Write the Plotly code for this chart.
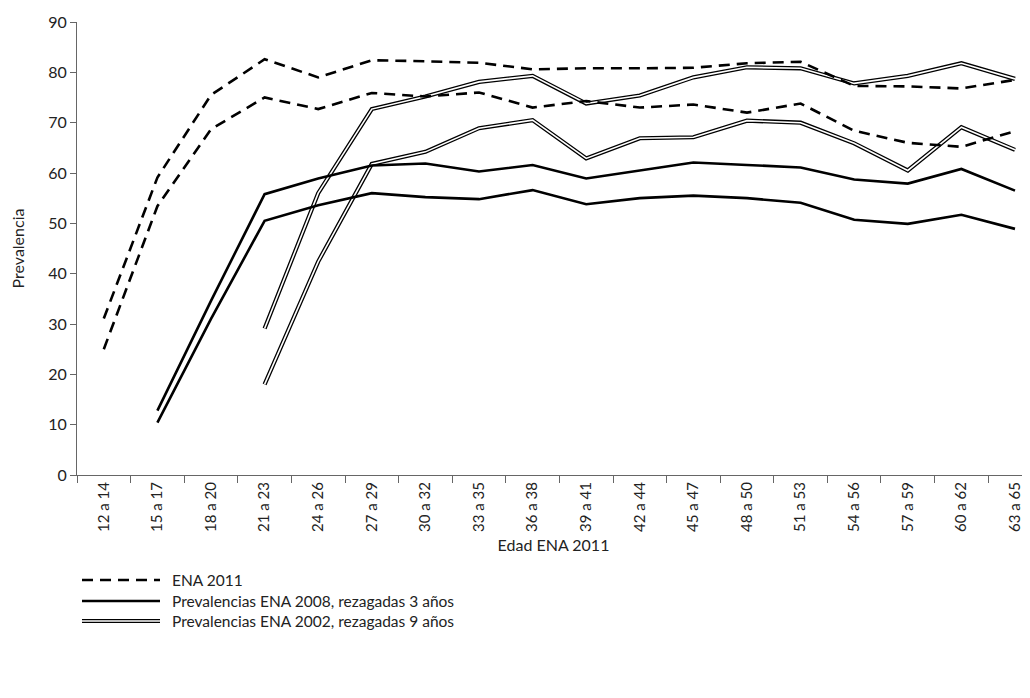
import plotly.graph_objects as go

categories = ["12 a 14", "15 a 17", "18 a 20", "21 a 23", "24 a 26", "27 a 29",
              "30 a 32", "33 a 35", "36 a 38", "39 a 41", "42 a 44", "45 a 47",
              "48 a 50", "51 a 53", "54 a 56", "57 a 59", "60 a 62", "63 a 65"]

ena2011_a = [31.1, 59.1, 75.5, 82.6, 79.0, 82.4, 82.2, 81.9, 80.6, 80.8, 80.8, 80.9,
             81.8, 82.1, 77.3, 77.2, 76.8, 78.5]
ena2011_b = [25.0, 53.4, 68.7, 75.0, 72.7, 75.9, 75.2, 76.0, 73.0, 74.3, 73.0, 73.6,
             72.0, 73.8, 68.4, 66.0, 65.2, 68.3]
ena2008_a = [None, 12.8, 34.6, 55.8, 58.9, 61.5, 61.9, 60.3, 61.6, 58.9, 60.5, 62.1,
             61.6, 61.1, 58.7, 57.9, 60.8, 56.5]
ena2008_b = [None, 10.4, 31.0, 50.5, 53.6, 56.0, 55.2, 54.8, 56.6, 53.8, 55.0, 55.5,
             55.0, 54.1, 50.7, 49.9, 51.7, 48.9]
ena2002_a = [None, None, None, 29.1, 56.0, 72.7, 75.2, 78.1, 79.3, 73.8, 75.4, 79.0,
             81.0, 80.8, 77.8, 79.3, 81.8, 78.7]
ena2002_b = [None, None, None, 18.0, 42.4, 61.8, 64.2, 68.9, 70.5, 62.9, 66.9, 67.1,
             70.4, 70.0, 65.9, 60.5, 69.1, 64.6]

legend_labels = ["ENA 2011",
                 "Prevalencias ENA 2008, rezagadas 3 años",
                 "Prevalencias ENA 2002, rezagadas 9 años"]

FONT = "Lato, 'Open Sans', sans-serif"
DASH = "11px,7px"
TXT = "#222"

fig = go.Figure()

# double lines (ENA 2002): black wide line with white core
for ser in (ena2002_a, ena2002_b):
    fig.add_trace(go.Scatter(x=categories, y=ser, mode="lines",
                             line=dict(color="black", width=4.2),
                             showlegend=False, hoverinfo="skip"))
    fig.add_trace(go.Scatter(x=categories, y=ser, mode="lines",
                             line=dict(color="white", width=1.6),
                             showlegend=False, hoverinfo="skip"))

for ser in (ena2008_a, ena2008_b):
    fig.add_trace(go.Scatter(x=categories, y=ser, mode="lines",
                             line=dict(color="black", width=2.6),
                             showlegend=False))

for ser in (ena2011_a, ena2011_b):
    fig.add_trace(go.Scatter(x=categories, y=ser, mode="lines",
                             line=dict(color="black", width=2.6, dash=DASH),
                             showlegend=False))

# page geometry (the html body adds an 8px offset)
OFF = 8
FIG_W, FIG_H = 1030 - OFF, 698 - OFF
plot_left, plot_right, plot_top, plot_bottom = 77, 1030, 22, 475  # page px
W = plot_right - plot_left
H = plot_bottom - plot_top


def px_x(p):
    return (p - plot_left) / W


def px_y(p):
    return (plot_bottom - p) / H


rows = [580, 601, 621]
x0, x1, xt = px_x(82), px_x(160), px_x(173)

shapes = [
    dict(type="line", xref="paper", yref="paper", x0=x0, x1=x1,
         y0=px_y(rows[0]), y1=px_y(rows[0]),
         line=dict(color="black", width=2.6, dash=DASH)),
    dict(type="line", xref="paper", yref="paper", x0=x0, x1=x1,
         y0=px_y(rows[1]), y1=px_y(rows[1]),
         line=dict(color="black", width=2.6)),
    dict(type="line", xref="paper", yref="paper", x0=x0, x1=x1,
         y0=px_y(rows[2]), y1=px_y(rows[2]),
         line=dict(color="black", width=4.2)),
    dict(type="line", xref="paper", yref="paper", x0=x0, x1=x1,
         y0=px_y(rows[2]), y1=px_y(rows[2]),
         line=dict(color="white", width=1.6)),
]

annotations = []
for r, lab in zip(rows, legend_labels):
    annotations.append(dict(xref="paper", yref="paper", x=xt, y=px_y(r),
                            text=lab, showarrow=False, xanchor="left",
                            yanchor="middle", xshift=-3,
                            font=dict(family=FONT, size=15.5, color=TXT)))

fig.update_layout(
    width=FIG_W, height=FIG_H,
    margin=dict(l=plot_left - OFF, r=0, t=plot_top - OFF, b=698 - plot_bottom,
                pad=0),
    plot_bgcolor="white", paper_bgcolor="white",
    font=dict(family=FONT, size=15, color=TXT),
    shapes=shapes, annotations=annotations,
    showlegend=False,
)
fig.update_xaxes(type="category", range=[-0.5, 17.28], tickangle=-90,
                 showgrid=False, showline=True, linecolor="#666", linewidth=1,
                 ticks="outside", tickson="boundaries", ticklen=7, tickcolor="#666",
                 tickfont=dict(size=15, family=FONT, color=TXT),
                 title=dict(text="Edad ENA 2011", standoff=8,
                            font=dict(size=16, family=FONT, color=TXT)),
                 automargin=False)
fig.update_yaxes(range=[0, 90], dtick=10, showgrid=False, zeroline=False,
                 showline=True, linecolor="#666", linewidth=1,
                 ticks="outside", ticklen=6, tickcolor="#666",
                 tickfont=dict(size=16, family=FONT, color=TXT),
                 title=dict(text="Prevalencia", standoff=20,
                            font=dict(size=16, family=FONT, color=TXT)),
                 automargin=False)

fig.write_html("out.html")
